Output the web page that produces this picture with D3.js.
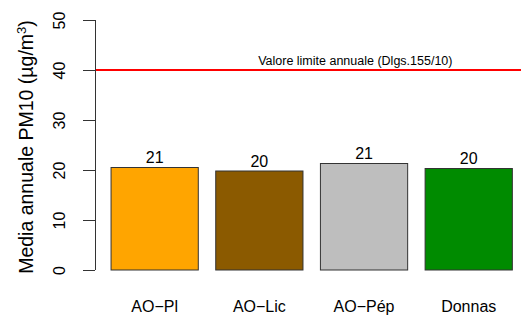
<!DOCTYPE html>
<html>
<head>
<meta charset="utf-8">
<script src="https://cdn.jsdelivr.net/npm/d3@7"></script>
<style>
  body { margin: 0; background: #fff; }
  svg { display: block; font-family: "Liberation Sans", Arial, sans-serif; }
</style>
</head>
<body>
<svg id="chart" width="521" height="315"></svg>
<script>
// data
const sites = ["AO\u2212Pl", "AO\u2212Lic", "AO\u2212P\u00e9p", "Donnas"];
const pm10 = [20.5, 19.8, 21.3, 20.3];
const barColors = ["#FFA500", "#8B5A00", "#BEBEBE", "#008B00"];
const yTicks = [0, 10, 20, 30, 40, 50];
const limitValue = 40;
const limitLabel = "Valore limite annuale (Dlgs.155/10)";

const svg = d3.select("#chart");

// R barplot geometry: bar width 1, space 0.2
const space = 0.2;
const x = d3.scaleLinear()
    .domain([0.016, 4.984])
    .range([95, 528.4]);
const y = d3.scaleLinear()
    .domain([0, 50])
    .range([270, 20]);

const left = i => space + i * (1 + space);

// limit line
svg.append("line")
    .attr("x1", x(0.016)).attr("x2", x(4.984))
    .attr("y1", y(limitValue)).attr("y2", y(limitValue))
    .attr("stroke", "#FF0000").attr("stroke-width", 2);

svg.append("text")
    .attr("x", x(3)).attr("y", y(limitValue) - 5)
    .attr("text-anchor", "middle")
    .attr("font-size", 12.5)
    .text(limitLabel);

// bars
svg.selectAll("rect.bar")
  .data(pm10)
  .join("rect")
    .attr("class", "bar")
    .attr("x", (d, i) => x(left(i)))
    .attr("width", (d, i) => x(left(i) + 1) - x(left(i)))
    .attr("y", d => y(d))
    .attr("height", d => y(0) - y(d))
    .attr("fill", (d, i) => barColors[i])
    .attr("stroke", "#333")
    .attr("stroke-width", 1);

// value labels
svg.selectAll("text.val")
  .data(pm10)
  .join("text")
    .attr("class", "val")
    .attr("x", (d, i) => x(left(i) + 0.5))
    .attr("y", d => y(d) - 4.5)
    .attr("text-anchor", "middle")
    .attr("font-size", 16)
    .text(d => Math.round(d));

// category labels
svg.selectAll("text.cat")
  .data(sites)
  .join("text")
    .attr("class", "cat")
    .attr("x", (d, i) => x(left(i) + 0.5))
    .attr("y", 311.5)
    .attr("text-anchor", "middle")
    .attr("font-size", 16)
    .text(d => d);

// y axis
const yAxis = svg.append("g")
    .attr("transform", "translate(95,0)")
    .call(d3.axisLeft(y).tickValues(yTicks).tickSize(12).tickPadding(0).tickFormat(d3.format("d")));
yAxis.select(".domain").attr("stroke", "#333").attr("d", `M0.5,${y(0)}V${y(50)}`);
yAxis.selectAll(".tick line").attr("stroke", "#333");
yAxis.selectAll(".tick text")
    .attr("font-size", 16)
    .attr("font-family", "Liberation Sans, Arial, sans-serif")
    .attr("fill", "#000")
    .attr("transform", "rotate(-90)")
    .attr("x", 0).attr("y", -30)
    .attr("dy", 0)
    .attr("text-anchor", "middle");

// y title
svg.append("text")
    .attr("transform", `translate(33,${(y(0) + y(50)) / 2 + 2}) rotate(-90)`)
    .attr("text-anchor", "middle")
    .attr("font-size", 19.5)
    .html("Media annuale PM10 (\u00b5g/m<tspan dy='-7' font-size='13'>3</tspan><tspan dy='7'>)</tspan>");
</script>
</body>
</html>
